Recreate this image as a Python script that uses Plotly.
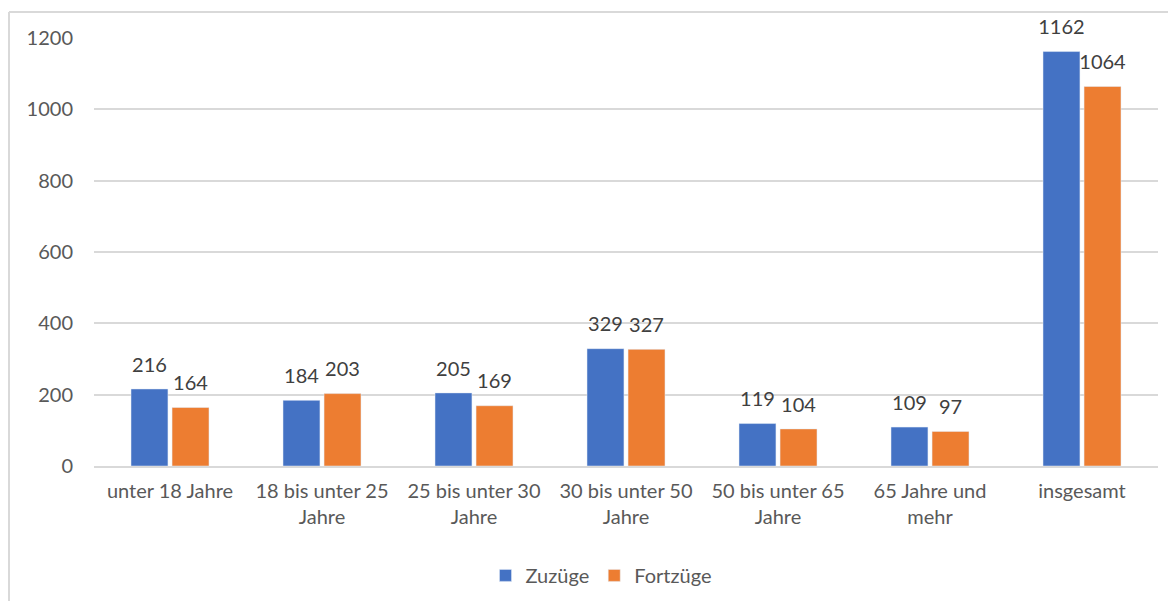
import plotly.graph_objects as go

categories = ["unter 18 Jahre", "18 bis unter 25<br>Jahre", "25 bis unter 30<br>Jahre",
              "30 bis unter 50<br>Jahre", "50 bis unter 65<br>Jahre", "65 Jahre und<br>mehr",
              "insgesamt"]
zuzuege = [216, 184, 205, 329, 119, 109, 1162]
fortzuege = [164, 203, 169, 327, 104, 97, 1064]
yticks = [0, 200, 400, 600, 800, 1000, 1200]

font_fam = "Lato, 'Open Sans', sans-serif"
gray = "#595959"

fig = go.Figure()
for name, vals, col, grp in [("Zuzüge", zuzuege, "#4472C4", "a"),
                             ("Fortzüge", fortzuege, "#ED7D31", "b")]:
    fig.add_trace(go.Bar(name=name, x=categories, y=vals, marker_color=col,
                         offsetgroup=grp, alignmentgroup="g"))
for name, vals, grp in [("Zuzüge", zuzuege, "a"), ("Fortzüge", fortzuege, "b")]:
    fig.add_trace(go.Scatter(x=categories, y=vals, text=vals, mode="markers+text",
                             textposition="top center", offsetgroup=grp, alignmentgroup="g",
                             marker=dict(size=18, color="rgba(0,0,0,0)"),
                             textfont=dict(size=20, color="#404040", family=font_fam),
                             showlegend=False, hoverinfo="skip", cliponaxis=False))

fig.update_layout(
    width=1176, height=601,
    margin=dict(l=86, r=26, t=30, b=143),
    paper_bgcolor="white", plot_bgcolor="white",
    barmode="group", bargap=0.46, bargroupgap=0.1,
    scattermode="group", scattergap=0.46,
    font=dict(family=font_fam, size=20, color=gray),
    legend=dict(orientation="h", x=0.4765, xanchor="center", y=-0.21, yanchor="top",
                font=dict(size=20, color=gray), traceorder="normal"),
    xaxis=dict(showgrid=False, showline=True, linecolor="#D9D9D9", linewidth=2,
               tickfont=dict(size=20, color=gray), ticks="", ticklabelstandoff=6),
    yaxis=dict(range=[0, 1200], tickvals=yticks, showgrid=True, gridcolor="#D9D9D9",
               gridwidth=2, zeroline=False, showline=False,
               tickfont=dict(size=20, color=gray), ticklabelstandoff=20),
    shapes=[
        dict(type="line", xref="paper", yref="paper", x0=-0.0799, x1=-0.0799, y0=1.0607, y1=-0.5,
             line=dict(color="#D9D9D9", width=2)),
        dict(type="line", xref="paper", yref="paper", x0=-0.0799, x1=1.05, y0=1.0607, y1=1.0607,
             line=dict(color="#D9D9D9", width=2)),
    ],
)

fig.write_html("out.html")
